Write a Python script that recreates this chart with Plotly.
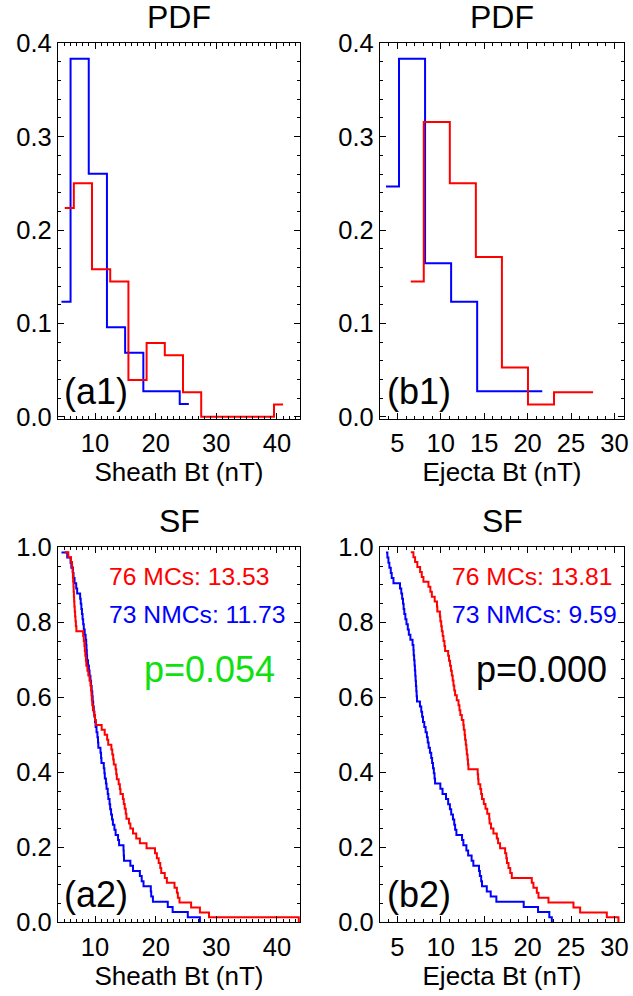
import numpy as np
import plotly.graph_objects as go

# ---------------- data ----------------
# Sheath Bt (nT), magnetic clouds (76 events)
sheath_mc = [5.01, 5.60, 6.05, 6.22, 6.30, 6.36, 6.40, 6.45, 6.48, 6.52, 6.56, 6.60, 6.66, 6.72, 6.78, 6.85, 6.93,
             8.05, 8.15, 8.25, 8.32, 8.40, 8.50, 8.57, 8.75, 8.90, 9.10, 9.25, 9.35, 9.42, 9.48, 9.55, 9.66, 9.85, 10.0, 10.15,
             11.1, 11.6, 12.0, 12.18, 12.7, 12.85, 13.0, 13.1, 13.4, 13.5, 13.6, 13.9,
             14.1, 14.2, 14.6, 14.74, 14.9, 15.07, 15.18, 15.6, 15.83, 16.27, 16.8,
             17.4, 18.5, 19.9,
             20.2, 20.5, 20.76, 20.92, 21.5, 21.85,
             23.11, 23.5, 23.66, 23.93, 25.85,
             27.3, 28.8,
             43.6]
# Sheath Bt (nT), non-cloud ejecta (73 events)
sheath_nmc = [4.47, 5.42, 5.97, 6.10, 6.36, 6.46, 6.63, 6.90, 7.06,
              7.55, 7.65, 7.75, 7.85, 7.95, 8.05, 8.15, 8.30, 8.45, 8.55, 8.60, 8.65, 8.70,
              8.85, 9.0, 9.1, 9.25, 9.35, 9.45, 9.55, 9.62, 9.70, 9.80, 9.90, 10.0, 10.1, 10.25, 10.40,
              10.50, 10.55, 10.90, 11.0, 11.06, 11.45, 11.55, 11.62, 11.80, 11.90, 12.10, 12.20, 12.40, 12.50,
              12.65, 12.80, 12.95, 13.20, 13.40,
              13.8, 13.97, 14.70, 14.74, 14.78, 15.83, 16.27,
              17.40, 17.70, 18.0, 19.20, 19.27,
              19.55, 22.0,
              22.8, 25.3,
              27.3]
# Ejecta Bt (nT), magnetic clouds (76 events)
ejecta_mc = [6.54, 6.85, 7.04, 7.30, 7.62, 7.81, 8.00, 8.58, 8.80, 8.97, 9.30,
             9.56, 9.60, 9.90, 9.95, 10.05, 10.12, 10.22, 10.31, 10.42, 10.50, 10.85, 10.95, 11.07, 11.17, 11.27,
             11.37, 11.46, 11.55, 11.65, 11.84, 12.04, 12.15, 12.25, 12.42,
             12.60, 12.65, 12.75, 12.80, 12.88, 12.95, 13.0, 13.08, 13.13, 13.18, 14.25, 14.30, 14.34, 14.55,
             14.65, 14.75, 14.95, 15.15, 15.35,
             15.58, 15.62, 15.78, 16.06, 16.45, 16.60, 16.83, 17.41, 17.55, 17.62, 17.80, 18.0, 18.18,
             20.48, 20.67, 21.06, 21.25,
             22.40,
             25.28, 26.05,
             29.12, 30.46]
# Ejecta Bt (nT), non-cloud ejecta (73 events)
ejecta_nmc = [3.69, 3.85, 3.97, 4.08, 4.24, 4.35, 4.55, 5.30, 5.45, 5.55, 5.65, 5.72, 5.80, 5.92, 6.05, 6.20, 6.32, 6.50,
              6.75, 6.85, 6.88, 6.93, 6.98, 7.02, 7.06, 7.10, 7.14, 7.18, 7.22, 7.26, 7.60, 7.75, 7.85, 7.95,
              8.10, 8.25, 8.40, 8.50, 8.60, 8.75, 8.90, 9.00, 9.10, 9.20, 9.28, 9.34,
              9.95, 10.2, 10.6, 10.85, 11.05, 11.2, 11.4, 11.55, 11.65, 11.8, 12.45, 12.6,
              12.95, 13.15, 13.55, 13.75, 14.4, 14.5, 14.65, 14.75, 15.3,
              15.75, 16.4,
              19.55, 21.2,
              22.5, 22.79]

bin_size = 3.0  # nT

mc_text = ["76 MCs: 13.53", "76 MCs: 13.81"]
nmc_text = ["73 NMCs: 11.73", "73 NMCs: 9.59"]
p_text = ["p=0.054", "p=0.000"]
p_colors = ["#10e010", "black"]
panel_tags = ["(a1)", "(b1)", "(a2)", "(b2)"]
x_titles = ["Sheath Bt (nT)", "Ejecta Bt (nT)"]
row_titles = ["PDF", "SF"]

x_ticks_a = [10, 20, 30, 40]
x_ticks_b = [5, 10, 15, 20, 25, 30]
pdf_ticks = [0.0, 0.1, 0.2, 0.3, 0.4]
sf_ticks = [0.0, 0.2, 0.4, 0.6, 0.8, 1.0]

RED = "#ff0000"
BLUE = "#0000ff"
FONT = "Liberation Sans, Arial, Helvetica, sans-serif"


def pdf(samples):
    x = np.sort(np.asarray(samples, float))
    idx = np.floor((x - x[0]) / bin_size + 1e-9).astype(int)
    counts = np.bincount(idx)
    locs = x[0] + bin_size * np.arange(len(counts))
    return locs, counts / len(x)


def sf(samples):
    x = np.sort(np.asarray(samples, float))
    n = len(x)
    return x, (n - 1 - np.arange(n)) / n


fig = go.Figure()

panels = [
    ("x", "y", sheath_mc, sheath_nmc, "pdf"),
    ("x2", "y2", ejecta_mc, ejecta_nmc, "pdf"),
    ("x3", "y3", sheath_mc, sheath_nmc, "sf"),
    ("x4", "y4", ejecta_mc, ejecta_nmc, "sf"),
]
for xa, ya, mc, nmc, kind in panels:
    for data, col in ((nmc, BLUE), (mc, RED)):
        if kind == "pdf":
            xx, yy = pdf(data)
            shape = "hvh"
        else:
            xx, yy = sf(data)
            shape = "hv"
        fig.add_trace(go.Scatter(x=xx, y=yy, mode="lines", xaxis=xa, yaxis=ya,
                                 line=dict(color=col, width=2, shape=shape),
                                 showlegend=False, hoverinfo="skip"))

XA = [58 / 633, 300 / 633]
XB = [380 / 633, 624 / 633]
YTOP = [1 - 418.6 / 996, 1 - 43.3 / 996]
YBOT = [1 - 922.3 / 996, 1 - 547.3 / 996]

tickfont = dict(family=FONT, size=25.5, color="black")


def ax(domain, anchor, rng, tickvals, fmt, minor_dtick, title=None):
    d = dict(domain=domain, anchor=anchor, range=rng, tickvals=tickvals,
             ticktext=[fmt.format(v) for v in tickvals], automargin=False,
             showline=True, linecolor="black", linewidth=1.2, mirror="ticks",
             ticks="inside", ticklen=6, tickwidth=1, tickcolor="black",
             showgrid=False, zeroline=False, tickfont=tickfont,
             minor=dict(ticks="inside", ticklen=3, tickwidth=1, tickcolor="black",
                        dtick=minor_dtick, tick0=0, showgrid=False))
    if title is not None:
        d["title"] = dict(text=title, font=dict(family=FONT, size=26, color="black"), standoff=2)
        d["ticklabelstandoff"] = 2
    return d


fig.update_layout(
    width=633, height=996, autosize=False, margin=dict(l=0, r=0, t=0, b=0, pad=0),
    paper_bgcolor="white", plot_bgcolor="white",
    xaxis=ax(XA, "y", [3.9, 43.8], x_ticks_a, "{:d}", 1, x_titles[0]),
    yaxis=ax(YTOP, "x", [-0.002, 0.4], pdf_ticks, "{:.1f}", 0.02),
    xaxis2=ax(XB, "y2", [3.0, 31.1], x_ticks_b, "{:d}", 1, x_titles[1]),
    yaxis2=ax(YTOP, "x2", [-0.002, 0.4], pdf_ticks, "{:.1f}", 0.02),
    xaxis3=ax(XA, "y3", [3.9, 43.8], x_ticks_a, "{:d}", 1, x_titles[0]),
    yaxis3=ax(YBOT, "x3", [0, 1.0], sf_ticks, "{:.1f}", 0.05),
    xaxis4=ax(XB, "y4", [3.0, 31.1], x_ticks_b, "{:d}", 1, x_titles[1]),
    yaxis4=ax(YBOT, "x4", [0, 1.0], sf_ticks, "{:.1f}", 0.05),
)

ann = []
# row titles
for i, (xd, yd) in enumerate([(XA, YTOP), (XB, YTOP), (XA, YBOT), (XB, YBOT)]):
    ann.append(dict(text=row_titles[i // 2], xref="paper", yref="paper",
                    x=(xd[0] + xd[1]) / 2, y=yd[1], yshift=26, xanchor="center", yanchor="middle",
                    showarrow=False, font=dict(family=FONT, size=32, color="black")))
# panel tags
for i, (xr, yr) in enumerate([("x", "y"), ("x2", "y2"), ("x3", "y3"), ("x4", "y4")]):
    ann.append(dict(text=panel_tags[i], xref=xr + " domain", yref=yr + " domain",
                    x=[0.017, 0.021][i % 2], y=0.073, xanchor="left", yanchor="middle", showarrow=False,
                    font=dict(family=FONT, size=36, color="black")))
# SF legends and p-values
for j, (xr, yr, xl) in enumerate([("x3", "y3", 0.2025), ("x4", "y4", 0.287)]):
    ann.append(dict(text=mc_text[j], xref=xr + " domain", yref=yr + " domain",
                    x=xl, y=0.9216, xanchor="left", yanchor="middle", showarrow=False,
                    font=dict(family=FONT, size=24.7, color=RED)))
    ann.append(dict(text=nmc_text[j], xref=xr + " domain", yref=yr + " domain",
                    x=xl, y=0.8195, xanchor="left", yanchor="middle", showarrow=False,
                    font=dict(family=FONT, size=24.7, color=BLUE)))
    ann.append(dict(text=p_text[j], xref=xr + " domain", yref=yr + " domain",
                    x=[0.628, 0.663][j], y=0.675, xanchor="center", yanchor="middle", showarrow=False,
                    font=dict(family=FONT, size=36, color=p_colors[j])))
fig.update_layout(annotations=ann)

fig.write_html("out.html", config={"displayModeBar": False},
               post_script="document.body.style.margin='0px';")
